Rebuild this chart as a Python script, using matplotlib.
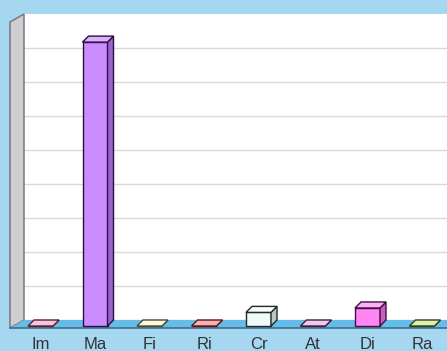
import numpy as np
import matplotlib.pyplot as plt
from matplotlib.patches import Polygon

plt.rcParams['font.family'] = ['Liberation Sans', 'DejaVu Sans']

categories = ["Im", "Ma", "Fi", "Ri", "Cr", "At", "Di", "Ra"]
values = [0, 83.5, 0, 0, 4.0, 0, 5.3, 0]
face_colors = ["#f4a6c8", "#cc8cff", "#f8f0c4", "#f48a8a",
               "#eef9f8", "#e8a8ec", "#ff86f4", "#c8e488"]
side_colors = ["#c87898", "#9a62cc", "#c8c094", "#c06060",
               "#b8c8c8", "#b878bc", "#c85cc0", "#98b460"]
top_colors = ["#f8c4dc", "#dcb0ff", "#fcf8dc", "#f8b0b0",
              "#f8fdfd", "#f0c8f2", "#ffb0f8", "#dcf0b0"]
edge_colors = ["#5a2030", "#2a1040", "#504a30", "#5a1818",
               "#202828", "#402040", "#401040", "#304018"]

W, H, DPI = 447, 351, 100
fig = plt.figure(figsize=(W / DPI, H / DPI), dpi=DPI)
fig.patch.set_facecolor("#a6d7f0")

# axes = back wall of the 3d box
left_px, top_px, right_px, floor_px = 24, 14, 447, 320
ax = fig.add_axes([left_px / W, (H - floor_px) / H,
                   (right_px - left_px) / W, (floor_px - top_px) / H])
ax.set_facecolor("white")

x = np.arange(len(categories))
ax.set_xlim(-0.303, 7.459)
ax.set_ylim(0, 90)

# pixel -> data conversions for the depth offsets
px_x = (right_px - left_px) / (ax.get_xlim()[1] - ax.get_xlim()[0])
px_y = (floor_px - top_px) / (ax.get_ylim()[1] - ax.get_ylim()[0])
dx, dy = 6 / px_x, 6 / px_y
wall_dx, wall_dy = 14 / px_x, 8 / px_y
bw = 25 / px_x

x0, x1 = ax.get_xlim()
y1 = ax.get_ylim()[1]

# left side wall
wall = Polygon([(x0, 0), (x0, y1), (x0 - wall_dx, y1 - wall_dy),
                (x0 - wall_dx, -wall_dy)], closed=True,
               facecolor="#cfcfd1", edgecolor="#78787e", lw=1.1,
               clip_on=False, zorder=1)
ax.add_patch(wall)

# floor
floor = Polygon([(x0, 0), (x1 + 1, 0), (x1 + 1, -wall_dy),
                 (x0 - wall_dx, -wall_dy)], closed=True,
                facecolor="#66bce8", edgecolor="none",
                clip_on=False, zorder=1)
ax.add_patch(floor)
ax.plot([x0 - wall_dx, x1 + 1], [-wall_dy, -wall_dy], color="#3d6f8c",
        lw=1.2, clip_on=False, zorder=1)
ax.plot([x0, x1], [0, 0], color="#9ccfe8", lw=1, zorder=1)

# gridlines on the back wall
ax.set_yticks(np.arange(10, 90, 10))
ax.yaxis.grid(True, color="#dadada", lw=1)
ax.set_axisbelow(True)

# bars: front faces
ax.bar(x, values, width=bw, bottom=-dy, color=face_colors,
       edgecolor=edge_colors, linewidth=1, clip_on=False, zorder=3)

for xi, v, sc, tc, ec in zip(x, values, side_colors, top_colors, edge_colors):
    xl, xr = xi - bw / 2, xi + bw / 2
    side = Polygon([(xr, -dy), (xr + dx, 0), (xr + dx, v), (xr, v - dy)],
                   closed=True, facecolor=sc, edgecolor=ec, lw=1,
                   clip_on=False, zorder=3)
    top = Polygon([(xl, v - dy), (xr, v - dy), (xr + dx, v), (xl + dx, v)],
                  closed=True, facecolor=tc, edgecolor=ec, lw=1,
                  clip_on=False, zorder=3)
    ax.add_patch(side)
    ax.add_patch(top)

ax.set_xticks(x)
ax.set_xticklabels(categories, fontsize=12, color="#333333")
ax.tick_params(axis="x", length=0, pad=12)
ax.tick_params(axis="y", length=0, labelleft=False)
for s in ax.spines.values():
    s.set_visible(False)

fig.savefig("out.png", dpi=DPI, facecolor=fig.get_facecolor())
